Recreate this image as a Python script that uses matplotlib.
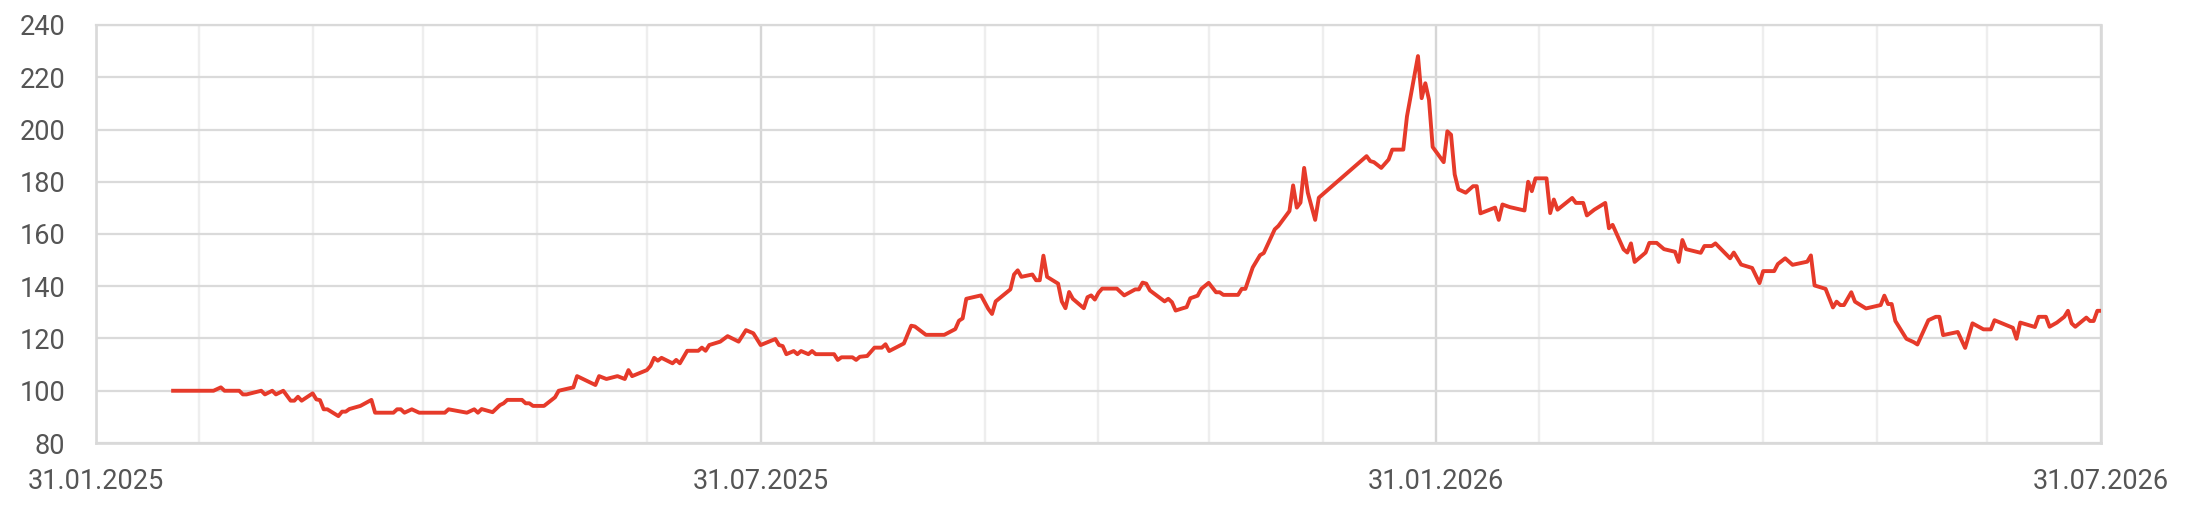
import matplotlib
matplotlib.use("Agg")
import matplotlib.pyplot as plt
import matplotlib.dates as mdates
import pandas as pd

dates = [
"2025-02-21","2025-03-04","2025-03-06","2025-03-07","2025-03-11","2025-03-12","2025-03-13","2025-03-17",
"2025-03-18","2025-03-20","2025-03-21","2025-03-23","2025-03-25","2025-03-26","2025-03-27","2025-03-28",
"2025-03-31","2025-04-01","2025-04-02","2025-04-03","2025-04-04","2025-04-07","2025-04-08","2025-04-09",
"2025-04-10","2025-04-13","2025-04-16","2025-04-17","2025-04-22","2025-04-23","2025-04-24","2025-04-25",
"2025-04-27","2025-04-29","2025-05-06","2025-05-07","2025-05-12","2025-05-14","2025-05-15","2025-05-16",
"2025-05-19","2025-05-21","2025-05-22","2025-05-23","2025-05-27","2025-05-28","2025-05-29","2025-05-30",
"2025-06-02","2025-06-05","2025-06-06","2025-06-10","2025-06-11","2025-06-16","2025-06-17","2025-06-19",
"2025-06-22","2025-06-24","2025-06-25","2025-06-26","2025-06-30","2025-07-01","2025-07-02","2025-07-03",
"2025-07-04","2025-07-07","2025-07-08","2025-07-09","2025-07-11","2025-07-14","2025-07-15","2025-07-16",
"2025-07-17","2025-07-20","2025-07-22","2025-07-25","2025-07-27","2025-07-29","2025-07-31","2025-08-04",
"2025-08-05","2025-08-06","2025-08-07","2025-08-09","2025-08-10","2025-08-11","2025-08-13","2025-08-14",
"2025-08-15","2025-08-20","2025-08-21","2025-08-22","2025-08-25","2025-08-26","2025-08-27","2025-08-29",
"2025-08-31","2025-09-02","2025-09-03","2025-09-04","2025-09-08","2025-09-10","2025-09-11","2025-09-14",
"2025-09-19","2025-09-22","2025-09-23","2025-09-24","2025-09-25","2025-09-29","2025-10-01","2025-10-02",
"2025-10-03","2025-10-05","2025-10-07","2025-10-08","2025-10-09","2025-10-10","2025-10-13","2025-10-14",
"2025-10-15","2025-10-16","2025-10-17","2025-10-20","2025-10-21","2025-10-22","2025-10-23","2025-10-24",
"2025-10-27","2025-10-28","2025-10-29","2025-10-30","2025-10-31","2025-11-01","2025-11-05","2025-11-07",
"2025-11-10","2025-11-11","2025-11-12","2025-11-13","2025-11-14","2025-11-18","2025-11-19","2025-11-20",
"2025-11-21","2025-11-23","2025-11-24","2025-11-25","2025-11-27","2025-11-28","2025-11-30","2025-12-02",
"2025-12-03","2025-12-04","2025-12-08","2025-12-09","2025-12-10","2025-12-12","2025-12-14","2025-12-15",
"2025-12-18","2025-12-19","2025-12-22","2025-12-23","2025-12-24","2025-12-25","2025-12-26","2025-12-27",
"2025-12-29","2025-12-30","2026-01-12","2026-01-13","2026-01-14","2026-01-16","2026-01-18","2026-01-19",
"2026-01-22","2026-01-23","2026-01-26","2026-01-27","2026-01-28","2026-01-29","2026-01-30","2026-02-02",
"2026-02-03","2026-02-04","2026-02-05","2026-02-06","2026-02-08","2026-02-10","2026-02-11","2026-02-12",
"2026-02-16","2026-02-17","2026-02-18","2026-02-20","2026-02-24","2026-02-25","2026-02-26","2026-02-27",
"2026-03-02","2026-03-03","2026-03-04","2026-03-05","2026-03-09","2026-03-10","2026-03-12","2026-03-13",
"2026-03-15","2026-03-18","2026-03-19","2026-03-20","2026-03-23","2026-03-24","2026-03-25","2026-03-26",
"2026-03-29","2026-03-30","2026-04-01","2026-04-03","2026-04-06","2026-04-07","2026-04-08","2026-04-09",
"2026-04-13","2026-04-14","2026-04-16","2026-04-17","2026-04-21","2026-04-22","2026-04-24","2026-04-27",
"2026-04-29","2026-04-30","2026-05-03","2026-05-04","2026-05-06","2026-05-08","2026-05-12","2026-05-13",
"2026-05-14","2026-05-17","2026-05-19","2026-05-20","2026-05-21","2026-05-22","2026-05-24","2026-05-25",
"2026-05-28","2026-06-01","2026-06-02","2026-06-03","2026-06-04","2026-06-05","2026-06-08","2026-06-10",
"2026-06-11","2026-06-14","2026-06-16","2026-06-17","2026-06-18","2026-06-22","2026-06-24","2026-06-26",
"2026-06-29","2026-07-01","2026-07-02","2026-07-07","2026-07-08","2026-07-09","2026-07-13","2026-07-14",
"2026-07-16","2026-07-17","2026-07-19","2026-07-21","2026-07-22","2026-07-23","2026-07-24","2026-07-27",
"2026-07-28","2026-07-29","2026-07-30","2026-07-31",
]

values = [
100.0,100.0,101.3,100.0,100.0,98.6,98.6,100.0,
98.6,100.0,98.6,100.0,96.2,96.2,97.7,96.2,
99.0,96.7,96.4,92.9,92.9,90.3,92.0,92.0,
93.0,94.2,96.5,91.6,91.6,92.9,92.9,91.6,
92.9,91.6,91.6,92.9,91.6,92.9,91.6,93.0,
91.8,94.5,95.2,96.5,96.5,95.2,95.2,94.2,
94.2,97.5,100.0,101.3,105.6,102.2,105.6,104.5,
105.6,104.5,107.9,105.6,107.9,109.5,112.6,111.5,
112.6,110.5,111.8,110.5,115.3,115.3,116.5,115.3,
117.5,118.8,120.9,118.8,123.2,122.0,117.5,119.8,
117.5,117.1,114.0,115.2,114.0,115.2,114.0,115.2,
114.0,114.0,111.8,112.8,112.8,111.8,113.0,113.3,
116.5,116.5,117.8,115.2,118.1,124.9,124.6,121.4,
121.4,123.6,126.8,127.7,135.2,136.5,131.3,129.4,
134.2,136.5,138.8,144.5,146.1,143.6,144.5,142.3,
142.3,151.7,143.6,141.0,134.2,131.6,137.8,135.2,
131.6,135.8,136.5,134.9,137.5,139.1,139.1,136.5,
138.8,138.8,141.4,141.0,138.4,134.2,135.2,133.9,
130.7,131.6,132.0,135.4,136.4,139.0,141.3,137.7,
137.7,136.7,136.7,139.0,139.0,147.2,151.9,152.7,
161.8,163.1,168.8,178.6,170.1,172.0,185.3,175.8,
165.4,173.9,189.8,187.9,187.5,185.3,188.5,192.3,
192.3,205.0,228.1,212.0,217.7,211.4,193.3,187.5,
199.3,198.0,182.8,177.1,175.8,178.3,178.3,167.9,
170.1,165.4,171.3,170.3,169.0,180.0,176.4,181.3,
181.3,168.0,173.2,169.3,173.8,171.9,171.9,167.1,
169.3,171.9,162.2,163.5,154.1,152.9,156.4,149.3,
152.9,156.6,156.6,154.2,153.2,149.3,157.7,154.2,
152.8,155.4,155.4,156.4,150.7,152.9,148.3,147.0,
141.2,145.8,145.8,148.5,150.7,148.2,149.4,151.8,
140.3,139.0,131.9,134.1,132.8,132.8,137.7,134.1,
131.5,132.8,136.4,133.2,133.2,126.7,119.9,118.6,
117.7,127.0,128.3,128.3,121.3,122.5,116.4,125.8,
123.5,123.5,127.0,124.1,119.9,126.1,124.4,128.3,
128.3,124.5,126.1,128.3,130.6,125.8,124.5,128.0,
126.7,126.7,130.6,130.6,
]

x_start = "2025-01-31"
x_end = "2026-07-31"
major_ticks = ["2025-01-31", "2025-07-31", "2026-01-31", "2026-07-31"]
y_ticks = [80, 100, 120, 140, 160, 180, 200, 220, 240]

plt.rcParams['font.family'] = ['Roboto', 'DejaVu Sans']

fig = plt.figure(figsize=(21.86, 5.12), dpi=100)
ax = fig.add_axes([96/2186, 1 - 443/512, (2101-96)/2186, (443-25)/512])

x = pd.to_datetime(dates)
ax.plot(x, values, color="#e63a2a", lw=2.8, zorder=3, solid_joinstyle="round")

ax.set_xlim(pd.Timestamp(x_start), pd.Timestamp(x_end))
ax.set_ylim(80, 240)
ax.set_yticks(y_ticks)

maj = pd.to_datetime(major_ticks)
ax.set_xticks(maj)
ax.set_xticklabels([d.strftime("%d.%m.%Y") for d in maj])
month_ends = pd.date_range(x_start, x_end, freq="ME")
minor = [d for d in month_ends if d not in set(maj)]
ax.set_xticks(minor, minor=True)

ax.grid(axis="y", color="#dadada", lw=1.6, zorder=0)
ax.grid(axis="x", which="major", color="#d6d6d6", lw=1.7, zorder=0)
ax.grid(axis="x", which="minor", color="#eeeeee", lw=1.7, zorder=0)
ax.set_axisbelow(True)

for side in ["left", "bottom", "right", "top"]:
    ax.spines[side].set_color("#d9d9d9")
    ax.spines[side].set_linewidth(1.9)
ax.spines["top"].set_linewidth(1.6)

ax.tick_params(axis="both", which="both", length=0, labelsize=19.5, labelcolor="#555555")
ax.tick_params(axis="y", pad=22)
ax.tick_params(axis="x", pad=18)

fig.savefig("out.png", dpi=100, facecolor="white")
